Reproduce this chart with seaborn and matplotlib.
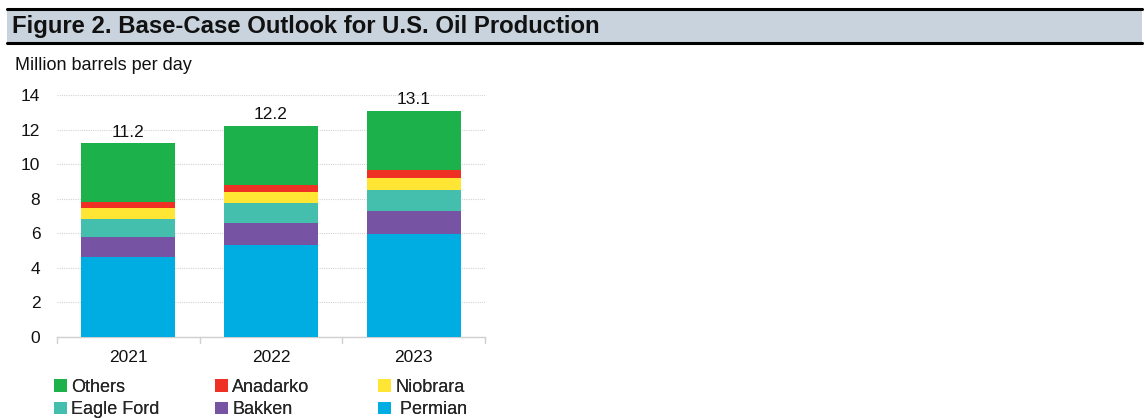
import matplotlib
matplotlib.use("Agg")
import matplotlib.pyplot as plt
import seaborn as sns
import pandas as pd
import numpy as np
from matplotlib.patches import Rectangle, Patch

years = ["2021", "2022", "2023"]
permian = [4.60, 5.33, 5.93]
bakken = [1.16, 1.26, 1.35]
eagle_ford = [1.06, 1.16, 1.22]
niobrara = [0.62, 0.65, 0.71]
anadarko = [0.38, 0.39, 0.45]
others = [3.38, 3.41, 3.44]
totals = [11.2, 12.2, 13.1]
total_labels = ["11.2", "12.2", "13.1"]

series_names = ["Permian", "Bakken", "Eagle Ford", "Niobrara", "Anadarko", "Others"]
series_vals = [permian, bakken, eagle_ford, niobrara, anadarko, others]
colors = {"Permian": "#00ADE3", "Bakken": "#7653A3", "Eagle Ford": "#44BEAD",
          "Niobrara": "#FFE534", "Anadarko": "#EE3124", "Others": "#1DB14B"}

sns.set_theme(style="white")
plt.rcParams['font.family'] = ['Liberation Sans', 'DejaVu Sans']

fig = plt.figure(figsize=(11.45, 4.18), dpi=100)
W, H = 1145, 418

# title band
band = Rectangle((7 / W, 1 - 43 / H), (1142 - 7) / W, (43 - 9) / H, transform=fig.transFigure,
                 facecolor="#C8D3DD", edgecolor="none", zorder=0)
fig.patches.append(band)
for yy in (9, 43):
    fig.add_artist(plt.Line2D([7 / W, 1142 / W], [1 - yy / H, 1 - yy / H], transform=fig.transFigure,
                              color="black", lw=2.2))
fig.text(12 / W, 1 - 26 / H, "Figure 2. Base-Case Outlook for U.S. Oil Production",
         fontsize=17.2, fontweight="bold", va="center", ha="left", color="#111111")
fig.text(15 / W, 1 - 65 / H, "Million barrels per day", fontsize=13, va="center", ha="left", color="#111111")

ax = fig.add_axes([57 / W, 1 - 337 / H, (485 - 57) / W, (337 - 95) / H])

rows = []
for name, vals in zip(series_names, series_vals):
    for y, v in zip(years, vals):
        rows.append({"year": y, "series": name, "value": v})
df = pd.DataFrame(rows)

bottom = np.zeros(len(years))
for name in series_names:
    sub = df[df.series == name].set_index("year").loc[years]
    ax.bar(years, sub["value"].values, bottom=bottom, width=0.66, color=colors[name],
           edgecolor="none", zorder=3, label=name)
    bottom = bottom + sub["value"].values

for i, (t, lab) in enumerate(zip(totals, total_labels)):
    ax.text(i, t + 0.22, lab, ha="center", va="bottom", fontsize=12.5, color="#111111", zorder=4)

ax.set_ylim(0, 14)
ax.set_xlim(-0.5, 2.5)
ax.set_yticks(np.arange(0, 15, 2))
ax.yaxis.grid(True, color="#D4D4D4", linestyle=(0, (1, 1)), lw=0.8, zorder=0)
ax.xaxis.grid(False)
for s in ["top", "right", "left"]:
    ax.spines[s].set_visible(False)
ax.spines["bottom"].set_color("#D0D0D0")
ax.spines["bottom"].set_linewidth(1)
ax.tick_params(axis="y", length=0, labelsize=12.5, pad=12, labelcolor="#111111")
ax.tick_params(axis="x", length=0, labelsize=12.5, pad=9, labelcolor="#111111")
for xb in [-0.5, 0.5, 1.5, 2.5]:
    ax.plot([xb, xb], [0, -0.35], color="#D0D0D0", lw=1, clip_on=False, zorder=2)
ax.set_xlabel("")
ax.set_ylabel("")

legend_cols = [["Others", "Eagle Ford"], ["Anadarko", "Bakken"], ["Niobrara", " Permian"]]
col_x = [54, 215, 378]
for names, xpix in zip(legend_cols, col_x):
    handles = [Patch(facecolor=colors[n.strip()], edgecolor="none") for n in names]
    leg = fig.legend(handles, names, ncol=1, loc="upper left", bbox_to_anchor=(xpix / W, 1 - 379 / H),
                     frameon=False, fontsize=13, handlelength=0.7, handleheight=0.7, handletextpad=0.25,
                     labelspacing=0.3, borderaxespad=0, borderpad=0)
    fig.add_artist(leg)

fig.savefig("out.png", dpi=100)
